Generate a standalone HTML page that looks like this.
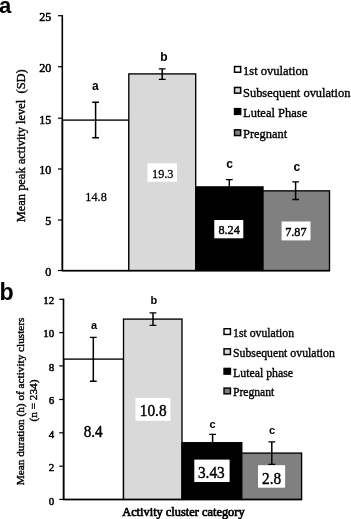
<!DOCTYPE html>
<html><head><meta charset="utf-8"><title>Activity clusters</title>
<style>html,body{margin:0;padding:0;background:#fff}svg{display:block}.s{font-family:'Liberation Serif', serif;fill:#000;stroke:#000;stroke-width:0.38px}.b{font-family:'Liberation Sans', sans-serif;font-weight:bold;fill:#000}</style>
</head><body>
<svg width="351" height="519" viewBox="0 0 351 519">
<rect x="0" y="0" width="351" height="519" fill="#fff"/>
<rect x="62.5" y="120.10" width="66.30" height="150.40" fill="#fff" stroke="#000" stroke-width="1.35"/>
<rect x="128.8" y="73.90" width="66.90" height="196.60" fill="#d9d9d9" stroke="#000" stroke-width="1.35"/>
<rect x="195.7" y="186.90" width="67.30" height="83.60" fill="#000" stroke="#000" stroke-width="1.35"/>
<rect x="263.0" y="190.85" width="66.50" height="79.65" fill="#808080" stroke="#000" stroke-width="1.35"/>
<line x1="62.3" y1="15.1" x2="62.3" y2="271.0" stroke="#000" stroke-width="1.6"/>
<line x1="61.8" y1="270.7" x2="330.0" y2="270.7" stroke="#000" stroke-width="1.6"/>
<line x1="58.0" y1="270.50" x2="62.3" y2="270.50" stroke="#000" stroke-width="1.2"/>
<text class="s" x="51.2" y="276.40" font-size="12" text-anchor="end" style="stroke-width:0.5px">0</text>
<line x1="58.0" y1="220.00" x2="62.3" y2="220.00" stroke="#000" stroke-width="1.2"/>
<text class="s" x="51.2" y="225.30" font-size="12" text-anchor="end" style="stroke-width:0.5px">5</text>
<line x1="58.0" y1="169.00" x2="62.3" y2="169.00" stroke="#000" stroke-width="1.2"/>
<text class="s" x="51.2" y="174.30" font-size="12" text-anchor="end" style="stroke-width:0.5px">10</text>
<line x1="58.0" y1="118.20" x2="62.3" y2="118.20" stroke="#000" stroke-width="1.2"/>
<text class="s" x="51.2" y="123.50" font-size="12" text-anchor="end" style="stroke-width:0.5px">15</text>
<line x1="58.0" y1="66.70" x2="62.3" y2="66.70" stroke="#000" stroke-width="1.2"/>
<text class="s" x="51.2" y="72.00" font-size="12" text-anchor="end" style="stroke-width:0.5px">20</text>
<line x1="58.0" y1="15.70" x2="62.3" y2="15.70" stroke="#000" stroke-width="1.2"/>
<text class="s" x="51.2" y="21.00" font-size="12" text-anchor="end" style="stroke-width:0.5px">25</text>
<path d="M92.19999999999999 102.2H99.0M92.19999999999999 137.7H99.0" stroke="#000" stroke-width="1.35" fill="none"/>
<line x1="95.6" y1="102.2" x2="95.6" y2="137.7" stroke="#000" stroke-width="1.5"/>
<path d="M158.79999999999998 68.8H165.6M158.79999999999998 79.3H165.6" stroke="#000" stroke-width="1.35" fill="none"/>
<line x1="162.2" y1="68.8" x2="162.2" y2="79.3" stroke="#000" stroke-width="1.5"/>
<path d="M225.9 179.6H232.70000000000002M225.9 193H232.70000000000002" stroke="#000" stroke-width="1.35" fill="none"/>
<line x1="229.3" y1="179.6" x2="229.3" y2="193" stroke="#000" stroke-width="1.5"/>
<path d="M292.20000000000005 181.8H299.0M292.20000000000005 199.5H299.0" stroke="#000" stroke-width="1.35" fill="none"/>
<line x1="295.6" y1="181.8" x2="295.6" y2="199.5" stroke="#000" stroke-width="1.5"/>
<text class="b" x="95.4" y="89.5" font-size="12" text-anchor="middle">a</text>
<text class="b" x="163.8" y="61.3" font-size="12" text-anchor="middle">b</text>
<text class="b" x="229.5" y="168.0" font-size="12" text-anchor="middle">c</text>
<text class="b" x="296.8" y="170.5" font-size="12" text-anchor="middle">c</text>
<text class="s" x="96.05" y="200.5" font-size="13.3" text-anchor="middle" textLength="21.41" lengthAdjust="spacingAndGlyphs" style="stroke-width:0.28px">14.8</text>
<rect x="147.5" y="163.3" width="29.50" height="18.50" fill="#fff"/>
<text class="s" x="162.75" y="177.6" font-size="13.3" text-anchor="middle" textLength="21.41" lengthAdjust="spacingAndGlyphs" style="stroke-width:0.28px">19.3</text>
<rect x="214.3" y="220" width="29.00" height="18.30" fill="#fff"/>
<text class="s" x="229.12" y="234.2" font-size="13.3" text-anchor="middle" textLength="21.41" lengthAdjust="spacingAndGlyphs" style="stroke-width:0.45px">8.24</text>
<rect x="281.6" y="221.5" width="28.90" height="18.90" fill="#fff"/>
<text class="s" x="295.90" y="236.0" font-size="13.3" text-anchor="middle" textLength="21.41" lengthAdjust="spacingAndGlyphs" style="stroke-width:0.45px">7.87</text>
<rect x="234.55" y="66.55" width="6.1" height="5.7" fill="#fff" stroke="#000" stroke-width="1.5"/>
<text class="s" x="243.0" y="75.39999999999999" font-size="13.4" text-anchor="start" textLength="65.0" lengthAdjust="spacingAndGlyphs">1st ovulation</text>
<rect x="234.55" y="87.45" width="6.1" height="5.7" fill="#d9d9d9" stroke="#000" stroke-width="1.5"/>
<text class="s" x="243.0" y="96.5" font-size="13.4" text-anchor="start" textLength="107.39999999999999" lengthAdjust="spacingAndGlyphs">Subsequent ovulation</text>
<rect x="234.55" y="108.65" width="6.1" height="5.7" fill="#000" stroke="#000" stroke-width="1.5"/>
<text class="s" x="243.0" y="117.1" font-size="13.4" text-anchor="start" textLength="64.2" lengthAdjust="spacingAndGlyphs">Luteal Phase</text>
<rect x="234.55" y="129.85" width="6.1" height="5.7" fill="#808080" stroke="#000" stroke-width="1.5"/>
<text class="s" x="243.0" y="137.79999999999998" font-size="13.4" text-anchor="start" textLength="44.3" lengthAdjust="spacingAndGlyphs">Pregnant</text>
<text class="s" font-size="13.4" transform="translate(24.5 222.3) rotate(-90)" textLength="153" lengthAdjust="spacingAndGlyphs" xml:space="preserve">Mean peak activity level  (SD)</text>
<text class="b" x="-0.9" y="13" font-size="22" text-anchor="start">a</text>
<rect x="63.75" y="359.10" width="59.75" height="140.40" fill="#fff" stroke="#000" stroke-width="1.35"/>
<rect x="123.5" y="319.10" width="58.50" height="180.40" fill="#d9d9d9" stroke="#000" stroke-width="1.35"/>
<rect x="182.0" y="442.70" width="59.80" height="56.80" fill="#000" stroke="#000" stroke-width="1.35"/>
<rect x="241.8" y="453.10" width="59.80" height="46.40" fill="#808080" stroke="#000" stroke-width="1.35"/>
<line x1="63.5" y1="298.65" x2="63.5" y2="500.0" stroke="#000" stroke-width="1.6"/>
<line x1="63.0" y1="499.5" x2="302.1" y2="499.5" stroke="#000" stroke-width="1.3"/>
<line x1="59.2" y1="499.40" x2="63.5" y2="499.40" stroke="#000" stroke-width="1.2"/>
<text class="s" x="54.3" y="504.70" font-size="11" text-anchor="end" style="stroke-width:0.5px">0</text>
<line x1="59.2" y1="466.20" x2="63.5" y2="466.20" stroke="#000" stroke-width="1.2"/>
<text class="s" x="54.3" y="470.90" font-size="11" text-anchor="end" style="stroke-width:0.5px">2</text>
<line x1="59.2" y1="432.80" x2="63.5" y2="432.80" stroke="#000" stroke-width="1.2"/>
<text class="s" x="54.3" y="437.50" font-size="11" text-anchor="end" style="stroke-width:0.5px">4</text>
<line x1="59.2" y1="399.50" x2="63.5" y2="399.50" stroke="#000" stroke-width="1.2"/>
<text class="s" x="54.3" y="404.20" font-size="11" text-anchor="end" style="stroke-width:0.5px">6</text>
<line x1="59.2" y1="365.90" x2="63.5" y2="365.90" stroke="#000" stroke-width="1.2"/>
<text class="s" x="54.3" y="370.60" font-size="11" text-anchor="end" style="stroke-width:0.5px">8</text>
<line x1="59.2" y1="332.60" x2="63.5" y2="332.60" stroke="#000" stroke-width="1.2"/>
<text class="s" x="54.3" y="337.30" font-size="11" text-anchor="end" style="stroke-width:0.5px">10</text>
<line x1="59.2" y1="299.30" x2="63.5" y2="299.30" stroke="#000" stroke-width="1.2"/>
<text class="s" x="54.3" y="304.00" font-size="11" text-anchor="end" style="stroke-width:0.5px">12</text>
<path d="M89.89999999999999 337.4H96.7M89.89999999999999 381.2H96.7" stroke="#000" stroke-width="1.35" fill="none"/>
<line x1="93.3" y1="337.4" x2="93.3" y2="381.2" stroke="#000" stroke-width="1.5"/>
<path d="M149.6 312.9H156.4M149.6 325.3H156.4" stroke="#000" stroke-width="1.35" fill="none"/>
<line x1="153.0" y1="312.9" x2="153.0" y2="325.3" stroke="#000" stroke-width="1.5"/>
<path d="M209.2 434.3H216.0M209.2 446H216.0" stroke="#000" stroke-width="1.35" fill="none"/>
<line x1="212.6" y1="434.3" x2="212.6" y2="446" stroke="#000" stroke-width="1.5"/>
<path d="M268.40000000000003 441.9H275.2M268.40000000000003 464.4H275.2" stroke="#000" stroke-width="1.35" fill="none"/>
<line x1="271.8" y1="441.9" x2="271.8" y2="464.4" stroke="#000" stroke-width="1.5"/>
<text class="b" x="94.0" y="328.7" font-size="11" text-anchor="middle">a</text>
<text class="b" x="153.9" y="304.1" font-size="11" text-anchor="middle">b</text>
<text class="b" x="212.6" y="428" font-size="11" text-anchor="middle">c</text>
<text class="b" x="272.1" y="433.8" font-size="11" text-anchor="middle">c</text>
<text class="s" x="93.20" y="436.8" font-size="17" text-anchor="middle" textLength="19.12" lengthAdjust="spacingAndGlyphs" style="stroke-width:0.45px">8.4</text>
<rect x="135.5" y="398" width="35.00" height="22.80" fill="#fff"/>
<text class="s" x="153.15" y="416.3" font-size="17" text-anchor="middle" textLength="26.78" lengthAdjust="spacingAndGlyphs" style="stroke-width:0.45px">10.8</text>
<rect x="194.3" y="459.6" width="35.30" height="22.40" fill="#fff"/>
<text class="s" x="211.30" y="477.8" font-size="17" text-anchor="middle" textLength="26.78" lengthAdjust="spacingAndGlyphs" style="stroke-width:0.45px">3.43</text>
<rect x="258" y="465.2" width="27.10" height="22.50" fill="#fff"/>
<text class="s" x="271.60" y="483.5" font-size="17" text-anchor="middle" textLength="19.12" lengthAdjust="spacingAndGlyphs" style="stroke-width:0.45px">2.8</text>
<rect x="224.03" y="328.72" width="6.4" height="5.7" fill="#fff" stroke="#000" stroke-width="1.45"/>
<text class="s" x="233.0" y="337.1" font-size="13.0" text-anchor="start" textLength="61.099999999999994" lengthAdjust="spacingAndGlyphs">1st ovulation</text>
<rect x="224.03" y="348.82" width="6.4" height="5.7" fill="#d9d9d9" stroke="#000" stroke-width="1.45"/>
<text class="s" x="233.0" y="357.0" font-size="13.0" text-anchor="start" textLength="101.89999999999999" lengthAdjust="spacingAndGlyphs">Subsequent ovulation</text>
<rect x="224.03" y="368.42" width="6.4" height="5.7" fill="#000" stroke="#000" stroke-width="1.45"/>
<text class="s" x="233.0" y="376.8" font-size="13.0" text-anchor="start" textLength="60.099999999999994" lengthAdjust="spacingAndGlyphs">Luteal phase</text>
<rect x="224.03" y="388.12" width="6.4" height="5.7" fill="#808080" stroke="#000" stroke-width="1.45"/>
<text class="s" x="233.0" y="396.0" font-size="13.0" text-anchor="start" textLength="41.199999999999996" lengthAdjust="spacingAndGlyphs">Pregnant</text>
<text class="s" font-size="10.6" transform="translate(23.8 485.3) rotate(-90)" textLength="167.8" lengthAdjust="spacingAndGlyphs">Mean duration (h) of activity clusters</text>
<text class="s" font-size="10.6" transform="translate(37.3 421.5) rotate(-90)" textLength="42" lengthAdjust="spacingAndGlyphs">(n = 234)</text>
<text class="s" x="122.2" y="516.3" font-size="13" text-anchor="start" textLength="122.4" lengthAdjust="spacingAndGlyphs" style="stroke-width:0.7px">Activity cluster category</text>
<text class="b" x="-0.4" y="299.8" font-size="23.2" text-anchor="start">b</text>
</svg></body></html>
